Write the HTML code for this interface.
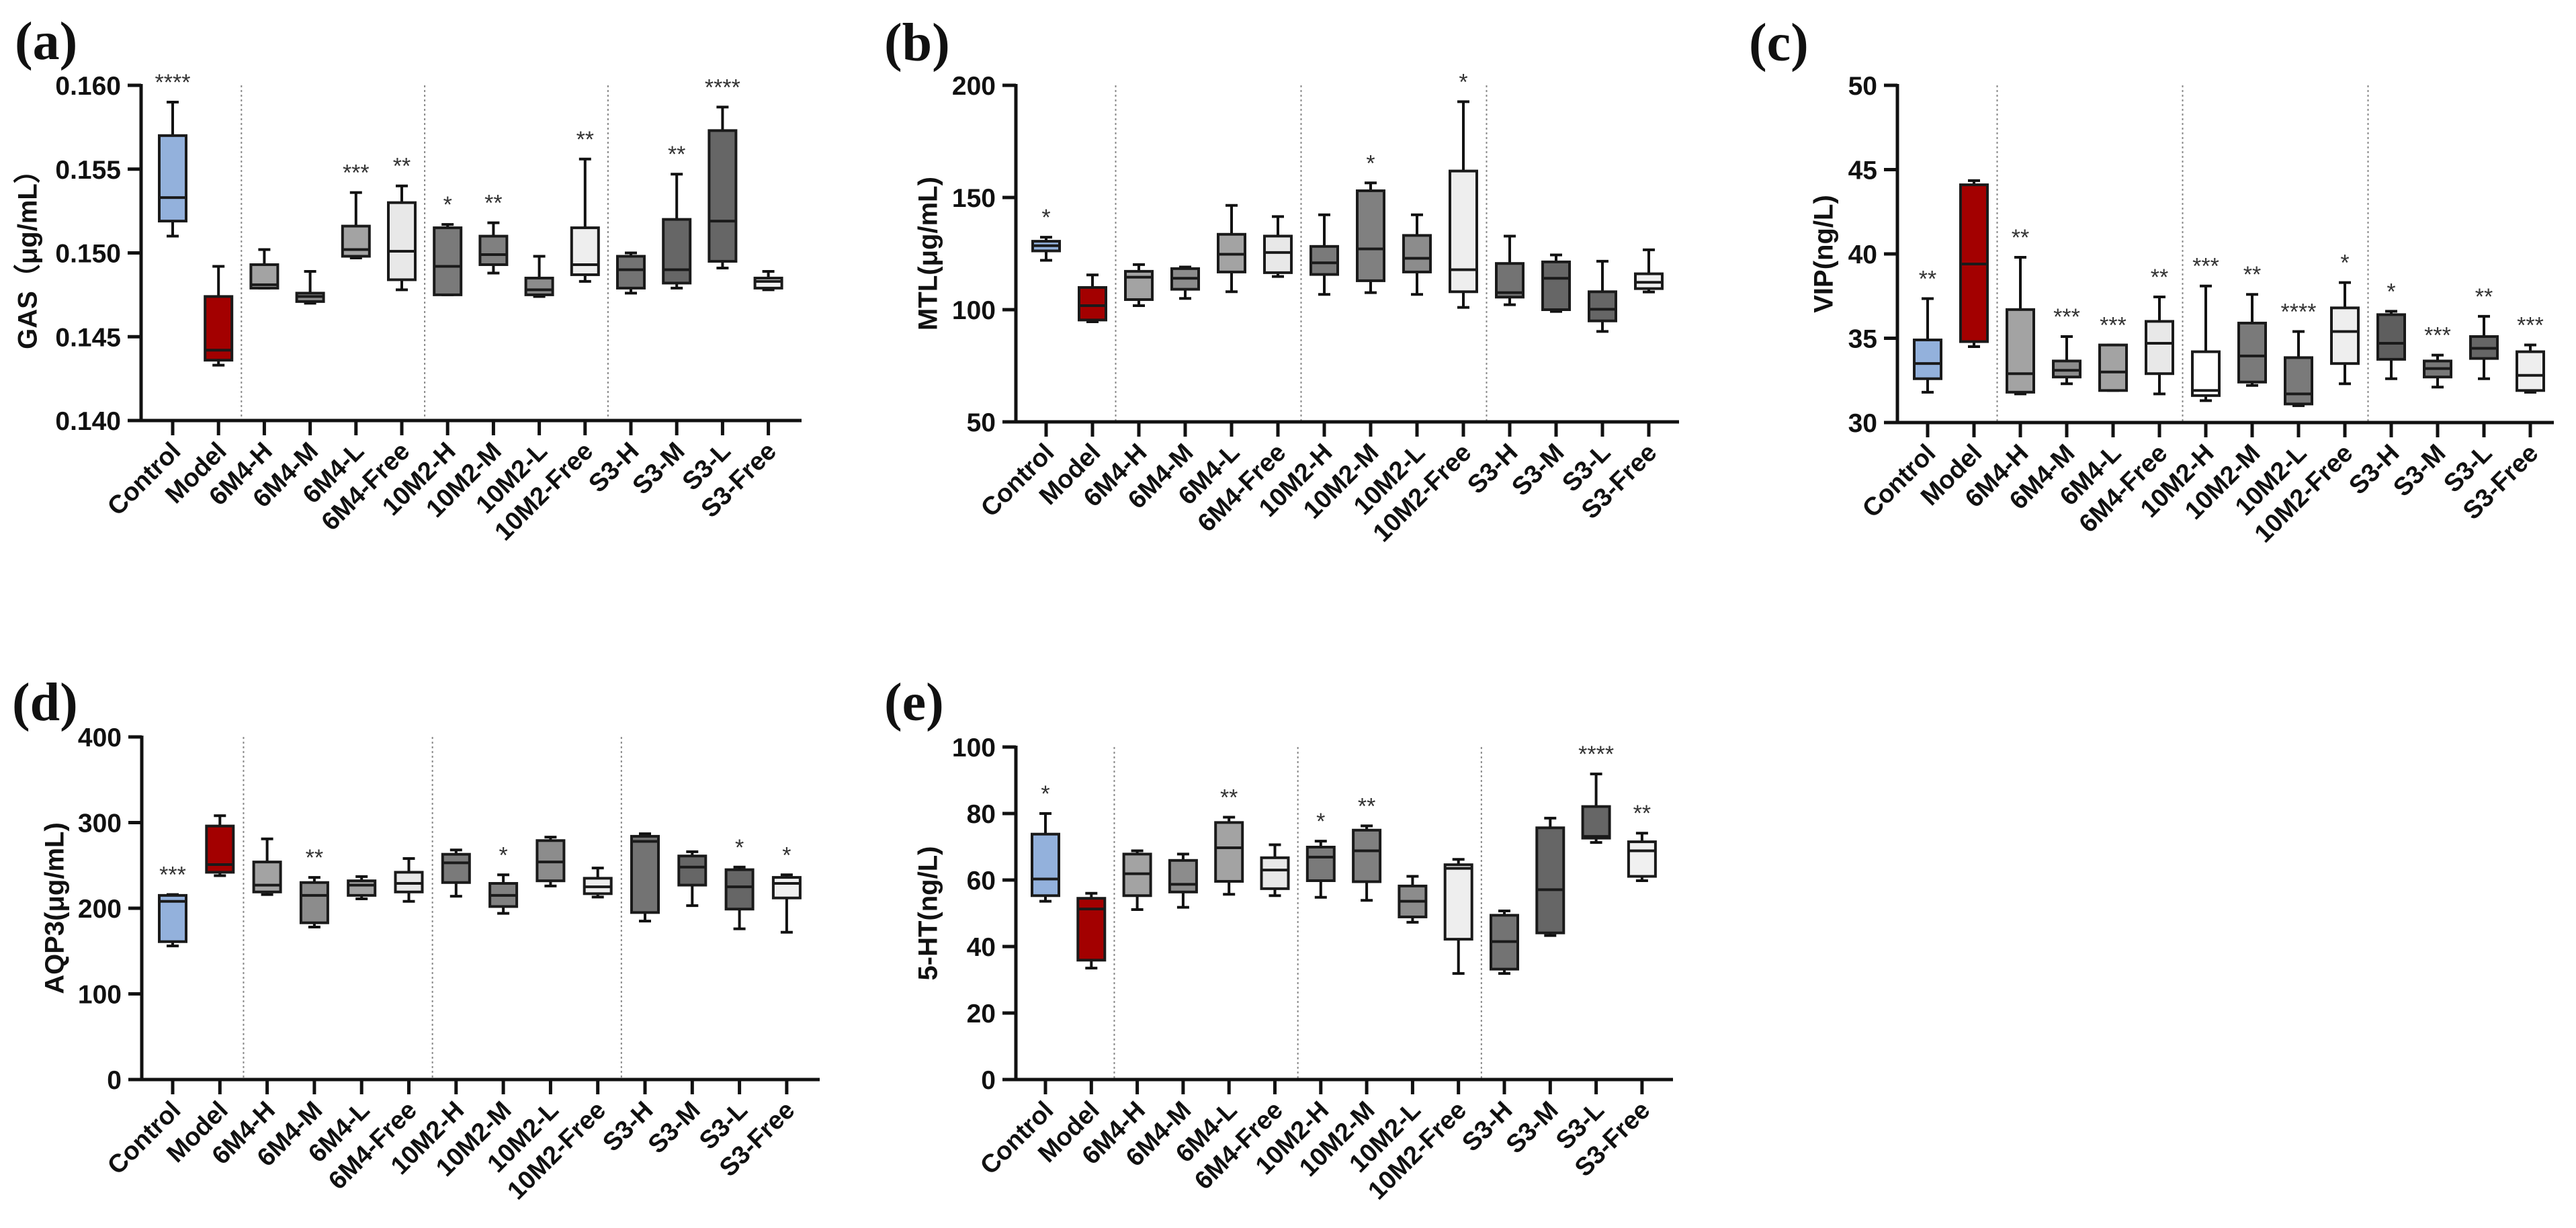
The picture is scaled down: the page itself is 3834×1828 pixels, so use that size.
<!DOCTYPE html>
<html><head><meta charset="utf-8"><style>
html,body{margin:0;padding:0;background:#fff;}
svg{display:block;}
text{font-family:"Liberation Sans",sans-serif;}
text.plabel{font-family:"Liberation Serif",serif;}
</style></head><body>
<svg id="fig" width="3834" height="1828" viewBox="0 0 3834 1828" xmlns="http://www.w3.org/2000/svg"></svg>
<script>
const categories = ['Control','Model','6M4-H','6M4-M','6M4-L','6M4-Free','10M2-H','10M2-M','10M2-L','10M2-Free','S3-H','S3-M','S3-L','S3-Free'];

// (a) GAS
const gasMax = [0.1590,0.1492,0.1502,0.1489,0.1536,0.1540,0.1517,0.1518,0.1498,0.1556,0.1500,0.1547,0.1587,0.1489];
const gasQ3  = [0.1570,0.1474,0.1493,0.1476,0.1516,0.1530,0.1515,0.1510,0.1485,0.1515,0.1498,0.1520,0.1573,0.1485];
const gasMed = [0.1533,0.1442,0.1481,0.1474,0.1502,0.1501,0.1492,0.1499,0.1478,0.1493,0.1490,0.1490,0.1519,0.1483];
const gasQ1  = [0.1519,0.1436,0.1479,0.1471,0.1498,0.1484,0.1475,0.1493,0.1475,0.1487,0.1479,0.1482,0.1495,0.1479];
const gasMin = [0.1510,0.1433,0.1479,0.1470,0.1497,0.1478,0.1475,0.1488,0.1474,0.1483,0.1476,0.1479,0.1491,0.1478];
const gasStars = ['****','','','','***','**','*','**','','**','','**','****',''];
const gasTicks = [0.140,0.145,0.150,0.155,0.160];
const gasTickLabels = ['0.140','0.145','0.150','0.155','0.160'];

// (b) MTL
const mtlMax = [132.3,115.5,120.1,119.0,146.5,141.5,142.3,156.5,142.3,192.7,132.8,124.4,121.6,126.7];
const mtlQ3  = [130.5,109.9,117.1,118.3,133.6,132.8,128.2,153.0,133.1,161.8,120.6,121.3,108.0,116.0];
const mtlMed = [128.5,101.8,114.5,114.0,124.7,125.5,120.9,127.1,122.9,117.8,107.6,114.0,100.2,112.2];
const mtlQ1  = [126.2,95.4,104.5,109.1,116.8,116.5,115.7,112.9,116.8,108.0,105.6,100.0,95.0,109.4];
const mtlMin = [122.0,94.6,101.8,105.0,108.0,114.8,106.8,107.6,106.8,101.0,102.2,99.2,90.3,107.9];
const mtlStars = ['*','','','','','','','*','','*','','','',''];
const mtlTicks = [50,100,150,200];
const mtlTickLabels = ['50','100','150','200'];

// (c) VIP
const vipMax = [37.35,44.35,39.8,35.1,34.6,37.45,38.1,37.6,35.4,38.3,36.6,34.0,36.3,34.6];
const vipQ3  = [34.9,44.1,36.7,33.65,34.6,36.0,34.2,35.9,33.85,36.8,36.4,33.65,35.1,34.2];
const vipMed = [33.5,39.4,32.9,33.1,33.0,34.7,31.9,33.95,31.7,35.4,34.7,33.2,34.4,32.8];
const vipQ1  = [32.6,34.8,31.8,32.7,31.9,32.9,31.6,32.4,31.1,33.5,33.75,32.7,33.8,31.9];
const vipMin = [31.8,34.5,31.7,32.3,31.9,31.7,31.3,32.2,31.0,32.3,32.6,32.1,32.6,31.8];
const vipStars = ['**','','**','***','***','**','***','**','****','*','*','***','**','***'];
const vipTicks = [30,35,40,45,50];
const vipTickLabels = ['30','35','40','45','50'];

// (d) AQP3
const aqpMax = [216,308,281,236,237,258,268,239,283,247,287,266,248,239];
const aqpQ3  = [215,296,254,230,232,242,263,229,279,235,284,261,245,236];
const aqpMed = [208,251,227,215,227,229,253,215,254,225,278,248,225,229];
const aqpQ1  = [161,242,219,183,215,219,230,202,232,217,195,227,199,212];
const aqpMin = [156,238,216,178,211,208,214,194,226,213,185,203,176,172];
const aqpStars = ['***','','','**','','','','*','','','','','*','*'];
const aqpTicks = [0,100,200,300,400];
const aqpTickLabels = ['0','100','200','300','400'];

// (e) 5-HT
const htMax = [80.0,56.0,68.8,67.8,78.9,70.6,71.7,76.3,61.1,66.2,50.7,78.6,91.9,74.1];
const htQ3  = [73.8,54.5,67.8,65.9,77.3,66.7,69.9,75.0,58.2,64.6,49.4,75.7,82.1,71.5];
const htMed = [60.3,51.3,61.9,58.7,69.7,63.0,66.9,68.8,53.6,63.5,41.5,57.1,73.1,68.8];
const htQ1  = [55.3,35.9,55.3,56.4,59.6,57.4,59.8,59.5,48.9,42.2,33.2,44.1,72.6,61.1];
const htMin = [53.6,33.5,51.1,51.8,55.7,55.3,54.8,53.9,47.3,31.9,31.9,43.3,71.3,59.8];
const htStars = ['*','','','','**','','*','**','','','','','****','**'];
const htTicks = [0,20,40,60,80,100];
const htTickLabels = ['0','20','40','60','80','100'];

const NS = 'http://www.w3.org/2000/svg';
const svg = document.getElementById('fig');
const baseFills = ['#93b1dc','#a30000','#a3a3a3','#8c8c8c','#a3a3a3','#e8e8e8','#7a7a7a','#808080','#8c8c8c','#eeeeee','#737373','#666666','#666666','#f0f0f0'];
const vipFills = ['#93b1dc','#a30000','#a3a3a3','#8c8c8c','#a3a3a3','#e8e8e8','#ffffff','#7a7a7a','#7a7a7a','#eeeeee','#5e5e5e','#777777','#666666','#eeeeee'];

function el(tag, attrs, parent) {
  const e = document.createElementNS(NS, tag);
  for (const k in attrs) e.setAttribute(k, attrs[k]);
  (parent || svg).appendChild(e);
  return e;
}

function drawPanel(cfg, maxA, q3A, medA, q1A, minA, stars, ticks, tickLabels, fills) {
  const g = el('g', {});
  
  
  const yS = v => cfg.yBot - (v - cfg.vMin) / (cfg.vMax - cfg.vMin) * (cfg.yBot - cfg.yTop);
  const xS = i => cfg.first + i * cfg.step;

  const pl = el('text', {x: cfg.lx, y: cfg.ly, 'font-size': 80, 'font-weight': 'bold', 'class': 'plabel', style: 'font-family:"Liberation Serif",serif', fill: '#111'}, g);
  pl.textContent = cfg.letter;
  
  

  [1.5, 5.5, 9.5].forEach(s => {
    const sx = xS(s);
    const ln = el('line', {x1: sx, x2: sx, y1: cfg.yTop, y2: cfg.yBot, stroke: '#888', 'stroke-width': 2, 'stroke-dasharray': '3,4'}, g);
    
    
  });

  const ya = el('line', {x1: cfg.ax, x2: cfg.ax, y1: cfg.yTop - 2, y2: cfg.yBot + 2, stroke: '#111', 'stroke-width': 5}, g);
  
  
  const xa = el('line', {x1: cfg.ax - 20, x2: cfg.xEnd, y1: cfg.yBot, y2: cfg.yBot, stroke: '#111', 'stroke-width': 5}, g);
  
  

  ticks.forEach((t, i) => {
    const ty = yS(t);
    const tk = el('line', {x1: cfg.ax - 20, x2: cfg.ax, y1: ty, y2: ty, stroke: '#111', 'stroke-width': 5}, g);
    
    
    const tl = el('text', {x: cfg.ax - 30, y: ty + 14, 'text-anchor': 'end', 'font-size': 39, 'font-weight': 'bold', fill: '#111'}, g);
    tl.textContent = tickLabels[i];
    
    
  });

  const yt = el('text', {x: cfg.tx, y: (cfg.yTop + cfg.yBot) / 2, 'text-anchor': 'middle', 'font-size': 40, 'font-weight': 'bold', fill: '#111', transform: 'rotate(-90 ' + cfg.tx + ' ' + (cfg.yTop + cfg.yBot) / 2 + ')', 'dominant-baseline': 'middle'}, g);
  yt.textContent = cfg.title;
  
  

  categories.forEach((c, i) => {
    const x = xS(i);
    const tk = el('line', {x1: x, x2: x, y1: cfg.yBot, y2: cfg.yBot + 22, stroke: '#111', 'stroke-width': 5}, g);
    
    
    const lx = x + 14, ly = cfg.yBot + 48;
    const tl = el('text', {x: lx, y: ly, 'text-anchor': 'end', 'font-size': 38, 'font-weight': 'bold', fill: '#111', transform: 'rotate(-45 ' + lx + ' ' + ly + ')'}, g);
    tl.textContent = c;
    
    

    const bg = el('g', {}, g);
    
    
    const yMax = yS(maxA[i]), yQ3 = yS(q3A[i]), yMed = yS(medA[i]), yQ1 = yS(q1A[i]), yMin = yS(minA[i]);
    const w = 40, cw = 18;
    const wh1 = el('line', {x1: x, x2: x, y1: yMax, y2: yQ3, stroke: '#111', 'stroke-width': 4}, bg);
    
    
    const wh2 = el('line', {x1: x, x2: x, y1: yQ1, y2: yMin, stroke: '#111', 'stroke-width': 4}, bg);
    
    
    const c1 = el('line', {x1: x - cw / 2, x2: x + cw / 2, y1: yMax, y2: yMax, stroke: '#111', 'stroke-width': 4}, bg);
    
    
    const c2 = el('line', {x1: x - cw / 2, x2: x + cw / 2, y1: yMin, y2: yMin, stroke: '#111', 'stroke-width': 4}, bg);
    
    
    const r = el('rect', {x: x - w / 2, y: yQ3, width: w, height: Math.max(1, yQ1 - yQ3), fill: fills[i], stroke: '#1a1a1a', 'stroke-width': 4}, bg);
    
    
    const m = el('line', {x1: x - w / 2, x2: x + w / 2, y1: yMed, y2: yMed, stroke: '#1a1a1a', 'stroke-width': 4}, bg);
    
    
    if (stars[i]) {
      const s = el('text', {x: x, y: yMax - 18, 'text-anchor': 'middle', 'font-size': 34, fill: '#333'}, bg);
      s.textContent = stars[i];
      
      
    }
  });
}

drawPanel({name:'panel-a-gas', letter:'(a)', lx:22, ly:88, ax:210, yTop:127, yBot:626, vMin:0.140, vMax:0.160, first:257, step:68.2, xEnd:1193, tx:44, title:'GAS（μg/mL）'},
  gasMax, gasQ3, gasMed, gasQ1, gasMin, gasStars, gasTicks, gasTickLabels, baseFills);
drawPanel({name:'panel-b-mtl', letter:'(b)', lx:1316, ly:90, ax:1512, yTop:127, yBot:628, vMin:50, vMax:200, first:1557, step:69.0, xEnd:2499, tx:1384, title:'MTL(μg/mL)'},
  mtlMax, mtlQ3, mtlMed, mtlQ1, mtlMin, mtlStars, mtlTicks, mtlTickLabels, baseFills);
drawPanel({name:'panel-c-vip', letter:'(c)', lx:2603, ly:90, ax:2824, yTop:127, yBot:629, vMin:30, vMax:50, first:2869, step:69.0, xEnd:3801, tx:2717, title:'VIP(ng/L)'},
  vipMax, vipQ3, vipMed, vipQ1, vipMin, vipStars, vipTicks, vipTickLabels, vipFills);
drawPanel({name:'panel-d-aqp3', letter:'(d)', lx:18, ly:1072, ax:211, yTop:1097, yBot:1607, vMin:0, vMax:400, first:257, step:70.3, xEnd:1220, tx:84, title:'AQP3(μg/mL)'},
  aqpMax, aqpQ3, aqpMed, aqpQ1, aqpMin, aqpStars, aqpTicks, aqpTickLabels, baseFills);
drawPanel({name:'panel-e-5ht', letter:'(e)', lx:1316, ly:1072, ax:1512, yTop:1112, yBot:1607, vMin:0, vMax:100, first:1556, step:68.3, xEnd:2490, tx:1384, title:'5-HT(ng/L)'},
  htMax, htQ3, htMed, htQ1, htMin, htStars, htTicks, htTickLabels, baseFills);
</script>
</body></html>
